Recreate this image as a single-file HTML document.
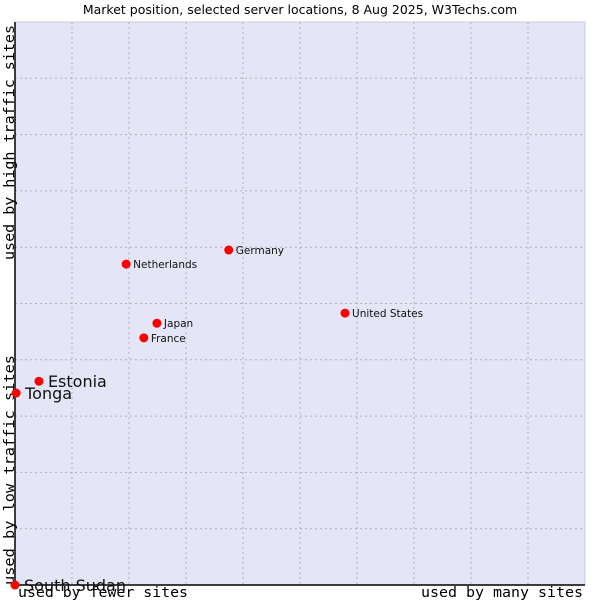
<!DOCTYPE html>
<html><head><meta charset="utf-8"><style>
body{margin:0;background:#fff;}
svg text{font-family:"DejaVu Sans","Liberation Sans",sans-serif;}
.mono{font-family:"DejaVu Sans Mono",monospace;}
</style></head><body>
<svg width="600" height="600" viewBox="0 0 600 600">
<text x="300" y="14" text-anchor="middle" font-size="12.5" fill="#000">Market position, selected server locations, 8 Aug 2025, W3Techs.com</text>
<rect x="15" y="22" width="570" height="563" fill="#e4e6f8" stroke="#c8c8d8"/>
<g id="grid"></g>
<line x1="15" y1="22" x2="15" y2="585" stroke="#000" stroke-width="1.5"/>
<line x1="15" y1="585" x2="585" y2="585" stroke="#000" stroke-width="1.5"/>
<text class="mono" x="14" y="260" font-size="14" transform="rotate(-90 14 260)" textLength="235" lengthAdjust="spacingAndGlyphs">used by high traffic sites</text>
<text class="mono" x="14" y="585" font-size="14" transform="rotate(-90 14 585)" textLength="230" lengthAdjust="spacingAndGlyphs">used by low traffic sites</text>
<text class="mono" x="18" y="597" font-size="14" textLength="170" lengthAdjust="spacingAndGlyphs">used by fewer sites</text>
<text class="mono" x="421" y="597" font-size="14" textLength="162" lengthAdjust="spacingAndGlyphs">used by many sites</text>
<g id="points"></g>
</svg>
<script>
const names=["Netherlands","Germany","United States","Japan","France","Estonia","Tonga","South Sudan"];
const xVals=[19.5,37.5,57.9,24.9,22.6,4.2,0.2,0];
const yVals=[57.0,59.5,48.3,46.5,43.9,36.2,34.1,0];
const bigLabel=[false,false,false,false,false,true,true,true];
const NS="http://www.w3.org/2000/svg";
function sx(v){return 15+v*5.7;}
function sy(v){return 585-v*5.63;}
const grid=document.getElementById('grid');
for(let i=1;i<10;i++){
  const lv=document.createElementNS(NS,'line');
  lv.setAttribute('x1',sx(i*10));lv.setAttribute('x2',sx(i*10));lv.setAttribute('y1',22);lv.setAttribute('y2',585);
  lv.setAttribute('stroke','#b0b0b0');lv.setAttribute('stroke-dasharray','2,3');
  
  
  grid.appendChild(lv);
  const lh=document.createElementNS(NS,'line');
  lh.setAttribute('y1',sy(i*10));lh.setAttribute('y2',sy(i*10));lh.setAttribute('x1',15);lh.setAttribute('x2',585);
  lh.setAttribute('stroke','#b0b0b0');lh.setAttribute('stroke-dasharray','2,3');
  
  
  grid.appendChild(lh);
}
const pts=document.getElementById('points');
names.forEach((n,i)=>{
  const x=sx(xVals[i]),y=sy(yVals[i]);
  const c=document.createElementNS(NS,'circle');
  c.setAttribute('cx',x);c.setAttribute('cy',y);c.setAttribute('r',4.5);c.setAttribute('fill','#ff0000');
  
  
  pts.appendChild(c);
  const t=document.createElementNS(NS,'text');
  t.setAttribute('x',x+(bigLabel[i]?9:7));t.setAttribute('y',y+(bigLabel[i]?6:4));
  t.setAttribute('font-size',bigLabel[i]?16:10.5);t.setAttribute('fill','#111');
  t.textContent=n;
  
  
  pts.appendChild(t);
});
</script>
</body></html>
